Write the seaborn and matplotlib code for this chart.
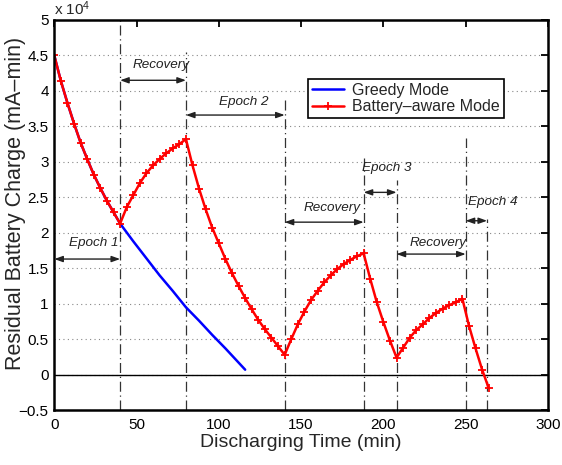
import numpy as np
import pandas as pd
from matplotlib import pyplot as plt
import seaborn as sns

# residual charge in units of 1e4 mA-min, sampled every 4 min
epoch1_t = [0, 4, 8, 12, 16, 20, 24, 28, 32, 36, 40]
epoch1_q = [4.50, 4.14, 3.83, 3.54, 3.27, 3.04, 2.82, 2.63, 2.45, 2.29, 2.13]
recov1_t = [44, 48, 52, 56, 60, 64, 68, 72, 76, 80]
recov1_q = [2.36, 2.53, 2.70, 2.84, 2.95, 3.04, 3.12, 3.19, 3.25, 3.32]
epoch2_t = [84, 88, 92, 96, 100, 104, 108, 112, 116, 120, 124, 128, 132, 136, 140]
epoch2_q = [2.95, 2.62, 2.33, 2.07, 1.85, 1.63, 1.43, 1.25, 1.08, 0.92, 0.77, 0.64, 0.52, 0.40, 0.28]
recov2_t = [144, 148, 152, 156, 160, 164, 168, 172, 176, 180, 184, 188]
recov2_q = [0.50, 0.71, 0.89, 1.05, 1.18, 1.30, 1.40, 1.49, 1.56, 1.62, 1.67, 1.71]
epoch3_t = [192, 196, 200, 204, 208]
epoch3_q = [1.35, 1.02, 0.74, 0.48, 0.24]
recov3_t = [212, 216, 220, 224, 228, 232, 236, 240, 244, 248]
recov3_q = [0.38, 0.52, 0.63, 0.71, 0.80, 0.87, 0.93, 0.98, 1.02, 1.07]
epoch4_t = [252, 256, 260, 264]
epoch4_q = [0.69, 0.37, 0.07, -0.19]

greedy_t = [0, 4, 8, 12, 16, 20, 24, 28, 32, 36, 40, 48, 56, 64, 72, 80, 88, 96, 104, 112, 116]
greedy_q = [4.50, 4.14, 3.83, 3.54, 3.27, 3.04, 2.82, 2.63, 2.45, 2.29, 2.13,
            1.88, 1.64, 1.40, 1.18, 0.95, 0.76, 0.56, 0.37, 0.17, 0.07]

# phase boundaries (min) and how high the dash-dot marker goes
bound_t = [40, 80, 140, 188, 208, 250, 263]
bound_top = [5.0, 4.55, 3.9, 3.05, 2.74, 3.33, 2.2]

# span arrows: start, end, arrow height, label, label x, label y
span_lbl = ["Epoch 1", "Recovery", "Epoch 2", "Recovery", "Epoch 3", "Recovery", "Epoch 4"]
span_x0 = [0, 40, 80, 140, 188, 208, 250]
span_x1 = [40, 80, 140, 188, 208, 250, 263]
span_y = [1.63, 4.15, 3.66, 2.15, 2.57, 1.70, 2.17]
lbl_x = [24, 65, 115, 169, 202, 233, 266.5]
lbl_y = [1.85, 4.36, 3.84, 2.35, 2.91, 1.86, 2.43]

aware = pd.DataFrame({
    "t": epoch1_t + recov1_t + epoch2_t + recov2_t + epoch3_t + recov3_t + epoch4_t,
    "q": epoch1_q + recov1_q + epoch2_q + recov2_q + epoch3_q + recov3_q + epoch4_q,
})
greedy = pd.DataFrame({"t": greedy_t, "q": greedy_q})

sns.set_style("white")
plt.rcParams["font.family"] = ["Liberation Sans", "DejaVu Sans"]
plt.rcParams["mathtext.default"] = "regular"

fig, ax = plt.subplots(figsize=(5.62, 4.65), dpi=100)
plt.subplots_adjust(left=0.0966, right=0.975, bottom=0.118, top=0.957)

ax.yaxis.grid(True, linestyle=(0, (1, 3)), color="#888888", lw=0.8)
ax.set_axisbelow(True)
ax.axhline(0, color="black", lw=1.0, zorder=1)

for x, top in zip(bound_t, bound_top):
    ax.plot([x, x], [-0.5, top], color="#333333", lw=0.9,
            linestyle=(0, (8, 3, 1, 3)), zorder=1)

sns.lineplot(x="t", y="q", data=greedy, color="blue", lw=1.8,
             estimator=None, sort=False, label="Greedy Mode", ax=ax)
sns.lineplot(x="t", y="q", data=aware, color="red", lw=1.8,
             marker="+", markersize=5.5, markeredgewidth=1.3, markeredgecolor="red",
             estimator=None, sort=False, label="Battery\u2013aware Mode", ax=ax)

for x0, x1, y, lbl, tx, ty in zip(span_x0, span_x1, span_y, span_lbl, lbl_x, lbl_y):
    ax.annotate("", xy=(x1, y), xytext=(x0, y),
                arrowprops=dict(arrowstyle="<|-|>,head_length=0.5,head_width=0.18",
                                color="#222222", lw=1.0, shrinkA=0, shrinkB=0))
    ax.text(tx, ty, lbl, ha="center", va="center", fontsize=9.7,
            style="italic", color="#222222")

ax.set_xlim(0, 300)
ax.set_ylim(-0.5, 5)
ax.set_xticks([0, 50, 100, 150, 200, 250, 300])
ax.set_yticks(np.arange(-0.5, 5.01, 0.5))
ax.set_yticklabels(["%g" % v if v >= 0 else "\u2212%g" % -v for v in np.arange(-0.5, 5.01, 0.5)])
ax.tick_params(direction="in", length=5, width=1.3, top=True, right=True,
               labelsize=11, colors="black")
ax.tick_params(axis="x", pad=6)
ax.tick_params(axis="y", pad=4)
for s in ax.spines.values():
    s.set_linewidth(1.8)
    s.set_color("black")

ax.set_xlabel("Discharging Time (min)", fontsize=14, labelpad=1)
ax.set_ylabel("Residual Battery Charge (mA\u2013min)", fontsize=15.5)
ax.yaxis.set_label_coords(-0.058, 0.53)
ax.text(0.0, 1.004, "x 10$^{4}$", transform=ax.transAxes, fontsize=11,
        ha="left", va="bottom")

leg = ax.legend(loc="upper left", bbox_to_anchor=(0.514, 0.849), fontsize=11.5,
                frameon=True, fancybox=False, framealpha=1, edgecolor="black",
                borderpad=0.25, labelspacing=0.1, handlelength=2.0,
                handletextpad=0.5, borderaxespad=0)
leg.get_frame().set_linewidth(1.2)

fig.savefig("out.png", dpi=100)
